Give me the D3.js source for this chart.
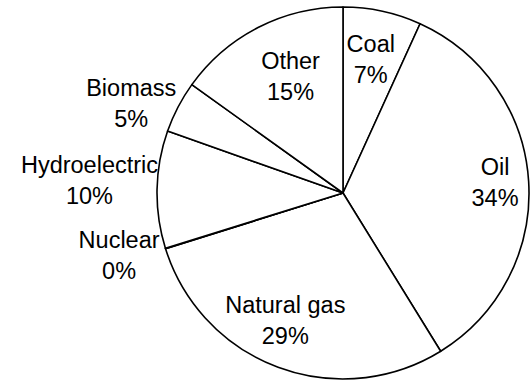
<!DOCTYPE html>
<html>
<head>
<meta charset="utf-8">
<script src="https://cdn.jsdelivr.net/npm/d3@7/dist/d3.min.js"></script>
<style>
  html, body { margin: 0; padding: 0; background: #fff; }
  svg { display: block; }
  text { font-family: "Liberation Sans", Arial, sans-serif; font-size: 23.5px; fill: #000; }
</style>
</head>
<body>
<svg id="chart" width="530" height="382"></svg>
<script>
// Data
const categories = ["Coal", "Oil", "Natural gas", "Nuclear", "Hydroelectric", "Biomass", "Other"];
const values = [6.8, 34.4, 28.95, 0.05, 10.2, 4.5, 15.1];
const percentLabels = ["7%", "34%", "29%", "0%", "10%", "5%", "15%"];

// Layout
const W = 530, H = 382;
const cx = 343, cy = 193, R = 186;
const outsideSet = new Set(["Nuclear", "Hydroelectric", "Biomass"]);
const insideFactor = { "Coal": 0.73, "Oil": 0.83, "Natural gas": 0.75, "Other": 0.70 };
const labelNudge = {
  "Coal": [-1, 0], "Oil": [-2, 0], "Natural gas": [-9, -3], "Other": [7, 0],
  "Biomass": [0, -2], "Hydroelectric": [3, -8], "Nuclear": [-4, 7]
};

const svg = d3.select("#chart");
svg.append("rect").attr("width", W).attr("height", H).attr("fill", "#fff");

const data = categories.map((c, i) => ({ name: c, value: values[i], label: percentLabels[i] }));

const pie = d3.pie().value(d => d.value).sort(null);
const arcs = pie(data);
const arc = d3.arc().innerRadius(0).outerRadius(R);

const g = svg.append("g").attr("transform", `translate(${cx},${cy})`);

g.selectAll("path.slice")
  .data(arcs)
  .enter().append("path")
  .attr("class", "slice")
  .attr("d", arc)
  .attr("fill", "#fff")
  .attr("stroke", "#000")
  .attr("stroke-width", 1.6)
  .attr("stroke-linejoin", "round");

arcs.forEach(a => {
  const mid = (a.startAngle + a.endAngle) / 2;
  const nudge = labelNudge[a.data.name] || [0, 0];
  const outside = outsideSet.has(a.data.name);
  const r = outside ? R + 2 : R * (insideFactor[a.data.name] || 0.72);
  const x = r * Math.sin(mid) + nudge[0];
  const y = -r * Math.cos(mid) + nudge[1];
  if (outside) {
    const nameT = g.append("text").attr("text-anchor", "end")
      .attr("x", x).attr("y", y - 8).text(a.data.name);
    const w = nameT.node().getComputedTextLength();
    g.append("text").attr("text-anchor", "middle")
      .attr("x", x - w / 2).attr("y", y + 23).text(a.data.label);
  } else {
    const t = g.append("text").attr("text-anchor", "middle");
    t.append("tspan").attr("x", x).attr("y", y - 8).text(a.data.name);
    t.append("tspan").attr("x", x).attr("y", y + 23).text(a.data.label);
  }
});
</script>
</body>
</html>
